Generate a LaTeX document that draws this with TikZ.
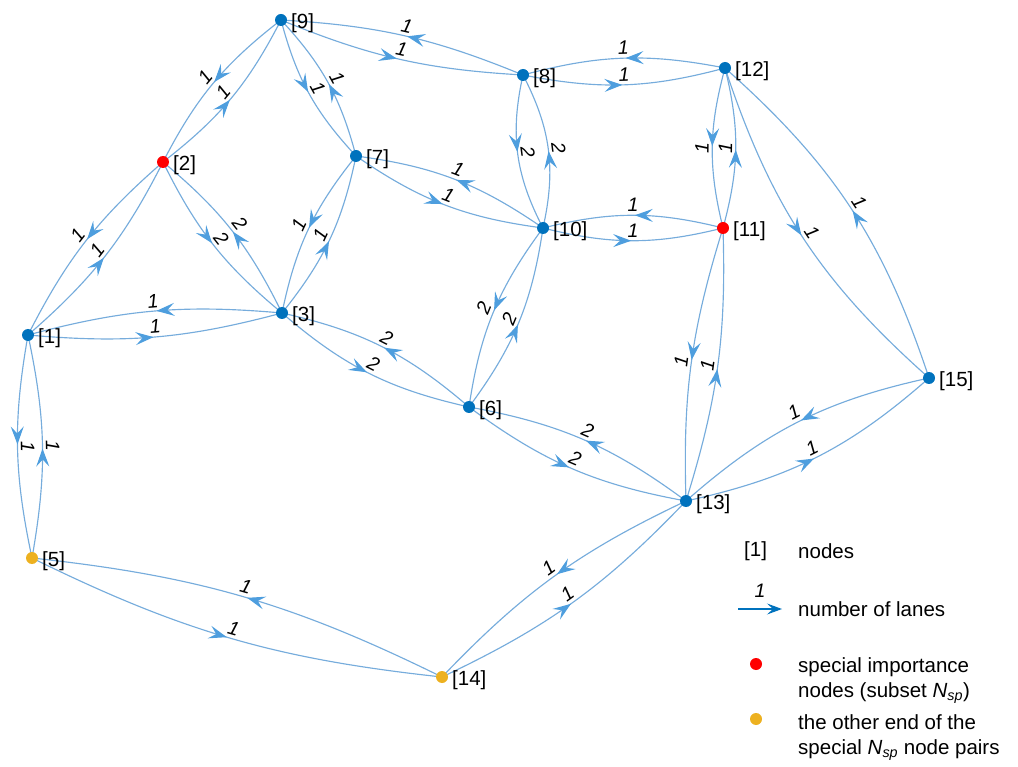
\documentclass[tikz,border=0pt]{standalone}
\usepackage{fontspec}
\setmainfont{Liberation Sans}
\usetikzlibrary{arrows.meta,decorations.markings,backgrounds}

\definecolor{laneblue}{RGB}{118,172,220}
\definecolor{tipblue}{RGB}{78,158,222}
\definecolor{nodeblue}{RGB}{0,114,189}
\definecolor{nodered}{RGB}{255,0,0}
\definecolor{nodeorange}{RGB}{237,177,32}

\tikzset{
  dot/.style={circle,inner sep=0pt,minimum size=12pt},
  bluedot/.style={dot,fill=nodeblue},
  reddot/.style={dot,fill=nodered},
  orangedot/.style={dot,fill=nodeorange},
  nlabel/.style={anchor=west,inner sep=0pt,font=\fontsize{20.5}{24}\selectfont},
  legtext/.style={anchor=base west,inner sep=0pt,font=\fontsize{20.5}{24}\selectfont},
  lane/.style={draw=laneblue,line width=1.15pt,postaction={decorate},
    decoration={markings,mark=at position 0.49 with
      {\arrow{Stealth[length=18pt,width=13pt,inset=7pt,color=tipblue]}}}},
  lab/.style={pos=0.5,sloped,above,inner sep=3pt,text=black,
    font=\fontsize{19.5}{22}\selectfont\itshape}
}

\begin{document}
\begin{tikzpicture}[x=1pt,y=-1pt]
\useasboundingbox (0,0) rectangle (1018,767);

% road network nodes
\node[bluedot]   (n1)  at (28,335)  {};
\node[reddot]    (n2)  at (163,162) {};
\node[bluedot]   (n3)  at (282,313) {};
\node[orangedot] (n5)  at (32,558)  {};
\node[bluedot]   (n6)  at (469,407) {};
\node[bluedot]   (n7)  at (356,156) {};
\node[bluedot]   (n8)  at (523,75)  {};
\node[bluedot]   (n9)  at (281,20)  {};
\node[bluedot]   (n10) at (543,228) {};
\node[reddot]    (n11) at (723,228) {};
\node[bluedot]   (n12) at (725,68)  {};
\node[bluedot]   (n13) at (686,501) {};
\node[orangedot] (n14) at (442,677) {};
\node[bluedot]   (n15) at (929,378) {};

% node names
\foreach \n in {1,2,3,5,6,7,8,9,10,11,12,13,14,15}
  \node[nlabel] (t\n) at ([shift={(10,3)}]n\n.center) {[\n]};

% directed lanes, one curve per direction
\begin{pgfonlayer}{background}
\foreach \a/\b/\k/\ang in {
   1/2/1/11, 2/1/1/11,
   1/3/1/10, 3/1/1/10,
   1/5/1/11, 5/1/1/11,
   2/9/1/12.5, 9/2/1/12.5,
   2/3/2/12, 3/2/2/12,
   3/7/1/13.5, 7/3/1/13.5,
   3/6/2/14, 6/3/2/14,
   7/9/1/14, 9/7/1/14,
   7/10/1/13.5, 10/7/1/13.5,
   9/8/1/9.5, 8/9/1/9.5,
   8/10/2/20, 10/8/2/20,
   8/12/1/13, 12/8/1/13,
   10/11/1/14, 11/10/1/14,
   10/6/2/14, 6/10/2/14,
   12/11/1/14.5, 11/12/1/14.5,
   12/15/1/15, 15/12/1/15,
   11/13/1/9.5, 13/11/1/9.5,
   6/13/2/13, 13/6/2/13,
   15/13/1/14.5, 13/15/1/14.5,
   13/14/1/10.5, 14/13/1/10.5,
   5/14/1/10, 14/5/1/10}
  \draw[lane] (n\a.center) to[bend right=\ang] node[lab] {\k} (n\b.center);
\end{pgfonlayer}

% legend
\node[nlabel] (lgnode) at (744,551) {[1]};
\node[legtext] (lgnodet) at (798,558) {nodes};
\coordinate (lga) at (738,609);
\coordinate (lgb) at (782,609);
\draw[draw=nodeblue,line width=1.3pt,-{Stealth[length=15pt,width=11pt,inset=6pt]}]
  (lga) -- node[above=11pt,inner sep=0pt,font=\fontsize{19.5}{22}\selectfont\itshape] (lgk) {1} (lgb);
\node[legtext] (lglane) at (798,616) {number of lanes};
\node[reddot] (lgred) at (756,664) {};
\node[legtext] (lgred1) at (798,672) {special importance};
\node[legtext] (lgred2) at (798,697) {nodes (subset {\itshape N}\textsubscript{\itshape sp})};
\node[orangedot] (lgor) at (756,719) {};
\node[legtext] (lgor1) at (798,729) {the other end of the};
\node[legtext] (lgor2) at (798,754) {special {\itshape N}\textsubscript{\itshape sp} node pairs};
\end{tikzpicture}
\end{document}
